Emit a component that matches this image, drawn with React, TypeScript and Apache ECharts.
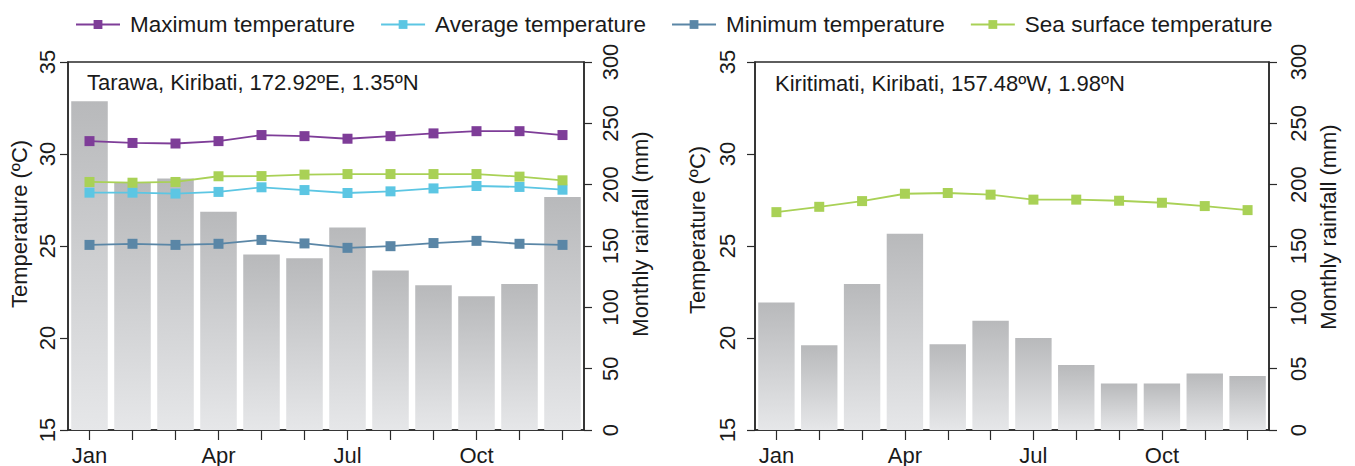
import React, { useEffect, useRef } from "react";
import * as echarts from "echarts";

const months = ["Jan", "Feb", "Mar", "Apr", "May", "Jun", "Jul", "Aug", "Sep", "Oct", "Nov", "Dec"];

// Tarawa
const tarawaRain = [268, 202, 205, 178, 143, 140, 165, 130, 118, 109, 119, 190];
const tarawaMax = [30.7, 30.6, 30.57, 30.7, 31.03, 30.97, 30.83, 30.97, 31.12, 31.24, 31.24, 31.03];
const tarawaAvg = [27.9, 27.9, 27.85, 27.94, 28.19, 28.04, 27.88, 27.97, 28.13, 28.26, 28.21, 28.06];
const tarawaMin = [25.06, 25.12, 25.06, 25.12, 25.33, 25.14, 24.9, 24.99, 25.16, 25.28, 25.12, 25.06];
const tarawaSst = [28.48, 28.44, 28.48, 28.79, 28.8, 28.88, 28.91, 28.91, 28.91, 28.91, 28.77, 28.57];

// Kiritimati
const kiriRain = [104, 69, 119, 160, 70, 89, 75, 53, 38, 38, 46, 44];
const kiriSst = [26.84, 27.13, 27.44, 27.84, 27.88, 27.79, 27.52, 27.52, 27.46, 27.35, 27.17, 26.95];

const tempTicks = { min: 15, max: 35, interval: 5 };
const rainTicks = { min: 0, max: 300, interval: 50 };

const FONT = "'Liberation Sans', Arial, Helvetica, sans-serif";
const TXT = "#1a1a1a";
const AX = "#2a2a2a";
const colMax = "#7e3d98";
const colAvg = "#5cc6e3";
const colMin = "#5a86a6";
const colSst = "#a9d156";

const barColor = new echarts.graphic.LinearGradient(0, 0, 0, 1, [
  { offset: 0, color: "#b8b9bb" },
  { offset: 1, color: "#e6e7e9" },
]);

function yAxisTemp(gridIndex: number, margin: number) {
  return {
    type: "value",
    gridIndex,
    position: "left",
    min: tempTicks.min,
    max: tempTicks.max,
    interval: tempTicks.interval,
    axisLine: { show: true, lineStyle: { color: AX, width: 1.5 } },
    axisTick: { show: true, length: 8, lineStyle: { color: AX, width: 1.2 } },
    axisLabel: { rotate: 90, margin, fontSize: 22, color: TXT, fontFamily: FONT },
    splitLine: { show: false },
  };
}

function yAxisRain(gridIndex: number, margin: number, fmt?: (v: number) => string) {
  return {
    type: "value",
    gridIndex,
    position: "right",
    min: rainTicks.min,
    max: rainTicks.max,
    interval: rainTicks.interval,
    axisLine: { show: true, lineStyle: { color: AX, width: 1.5 } },
    axisTick: { show: true, length: 8, lineStyle: { color: AX, width: 1.2 } },
    axisLabel: { rotate: 90, margin, fontSize: 22, color: TXT, fontFamily: FONT, formatter: fmt },
    splitLine: { show: false },
  };
}

function xAxis(gridIndex: number) {
  return {
    type: "category",
    gridIndex,
    data: months,
    boundaryGap: true,
    axisLine: { show: true, lineStyle: { color: AX, width: 1.5 } },
    axisTick: { show: true, alignWithLabel: true, interval: 0, length: 10, lineStyle: { color: AX, width: 1.2 } },
    axisLabel: { interval: 2, margin: 14, fontSize: 22, color: TXT, fontFamily: FONT },
    splitLine: { show: false },
  };
}

function lineSeries(name: string, data: number[], color: string, xi: number, yi: number) {
  return {
    type: "line",
    name,
    data,
    xAxisIndex: xi,
    yAxisIndex: yi,
    symbol: "rect",
    symbolSize: 10,
    z: 5,
    lineStyle: { color, width: 1.8 },
    itemStyle: { color },
  };
}

function vTitle(text: string, x: number, y: number) {
  return {
    type: "text",
    x,
    y,
    rotation: Math.PI / 2,
    style: {
      text,
      font: `22px ${FONT}`,
      fill: TXT,
      textAlign: "center",
      textVerticalAlign: "middle",
    },
  };
}

export default function App() {
  const ref = useRef<HTMLDivElement>(null);
  useEffect(() => {
    if (!ref.current) return;
    const chart = echarts.init(ref.current, null, { renderer: "svg" });
    chart.setOption({
      animation: false,
      backgroundColor: "#ffffff",
      textStyle: { fontFamily: FONT },
      legend: {
        left: 70,
        top: 8,
        itemWidth: 44,
        itemHeight: 11,
        itemGap: 25,
        textStyle: { fontSize: 22.5, color: TXT, fontFamily: FONT, padding: [0, 0, 0, 5] },
        data: ["Maximum temperature", "Average temperature", "Minimum temperature", "Sea surface temperature"],
      },
      grid: [
        { left: 68, right: 771, top: 62, bottom: 35, show: true, borderColor: AX, borderWidth: 1.5 },
        { left: 755, right: 86, top: 62, bottom: 35, show: true, borderColor: AX, borderWidth: 1.5 },
      ],
      xAxis: [xAxis(0), xAxis(1)],
      yAxis: [
        yAxisTemp(0, 10),
        yAxisRain(0, 15),
        yAxisTemp(1, 17),
        yAxisRain(1, 18, (v: number) => (v === 50 ? "05" : String(v))),
      ],
      graphic: [
        {
          type: "text",
          x: 87,
          y: 82,
          style: {
            text: "Tarawa, Kiribati, 172.92ºE, 1.35ºN",
            font: `22px ${FONT}`,
            fill: TXT,
            textVerticalAlign: "middle",
          },
        },
        {
          type: "text",
          x: 775,
          y: 83,
          style: {
            text: "Kiritimati, Kiribati, 157.48ºW, 1.98ºN",
            font: `22px ${FONT}`,
            fill: TXT,
            textVerticalAlign: "middle",
          },
        },
        vTitle("Temperature (ºC)", 19, 224),
        vTitle("Monthly rainfall (mm)", 640, 234),
        vTitle("Temperature (ºC)", 697, 230),
        vTitle("Monthly rainfall (mm)", 1328, 227),
      ],
      series: [
        {
          type: "bar",
          name: "Tarawa rainfall",
          data: tarawaRain,
          xAxisIndex: 0,
          yAxisIndex: 1,
          barCategoryGap: "15%",
          itemStyle: { color: barColor },
          z: 1,
        },
        lineSeries("Maximum temperature", tarawaMax, colMax, 0, 0),
        lineSeries("Average temperature", tarawaAvg, colAvg, 0, 0),
        lineSeries("Minimum temperature", tarawaMin, colMin, 0, 0),
        lineSeries("Sea surface temperature", tarawaSst, colSst, 0, 0),
        {
          type: "bar",
          name: "Kiritimati rainfall",
          data: kiriRain,
          xAxisIndex: 1,
          yAxisIndex: 3,
          barCategoryGap: "15%",
          itemStyle: { color: barColor },
          z: 1,
        },
        lineSeries("Sea surface temperature", kiriSst, colSst, 1, 2),
      ],
    });
    return () => chart.dispose();
  }, []);
  return (
    <div
      ref={ref}
      style={{ position: "fixed", left: 0, top: 0, width: 1355, height: 466, background: "#fff" }}
    />
  );
}
